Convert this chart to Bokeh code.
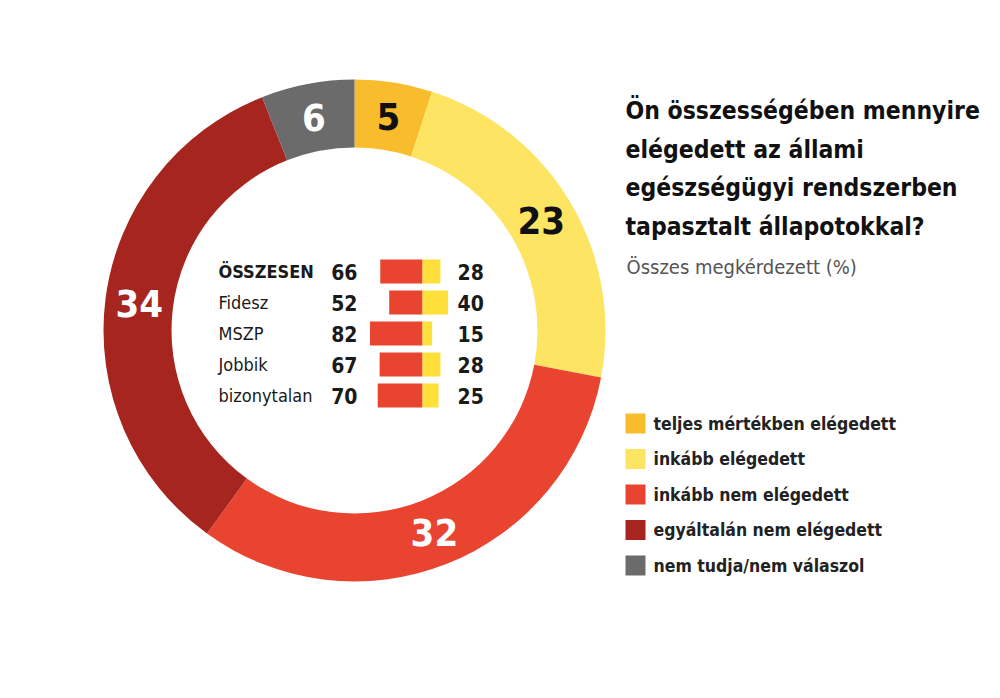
import numpy as np
from bokeh.plotting import figure
from bokeh.models import Range1d
from bokeh.core.properties import value
from bokeh.embed import file_html
from bokeh.resources import INLINE

# ---- data ----
categories = ["teljes mértékben elégedett", "inkább elégedett", "inkább nem elégedett",
              "egyáltalán nem elégedett", "nem tudja/nem válaszol"]
shares = [5, 23, 32, 34, 6]
slice_colors = ["#F9BC2C", "#FDE463", "#E8442F", "#A6251E", "#6B6B6B"]
label_colors = ["#111111", "#111111", "#FFFFFF", "#FFFFFF", "#FFFFFF"]

groups = ["ÖSSZESEN", "Fidesz", "MSZP", "Jobbik", "bizonytalan"]
not_satisfied = [66, 52, 82, 67, 70]
satisfied = [28, 40, 15, 28, 25]

title_lines = ["Ön összességében mennyire", "elégedett az állami",
               "egészségügyi rendszerben", "tapasztalt állapotokkal?"]
subtitle = "Összes megkérdezett (%)"

# ---- layout helpers (picture pixel coordinates) ----
W, H = 984, 682
PAGE_H = 698
def Y(py):
    return PAGE_H - np.asarray(py, dtype=float)

NARROW = value("DejaVu Sans Condensed, Liberation Sans Narrow, Liberation Sans, sans-serif")

p = figure(width=W, height=H, x_range=Range1d(0, W), y_range=Range1d(PAGE_H - H, PAGE_H),
           output_backend="svg", toolbar_location=None, min_border=0,
           x_axis_location=None, y_axis_location=None)
p.grid.visible = False
p.outline_line_color = None
p.background_fill_color = "white"
p.border_fill_color = "white"

# ---- donut ----
CX, CY = 354, 330
R_IN, R_OUT = 183, 251
vals = np.array(shares, dtype=float)
total = vals.sum()
cum = np.concatenate([[0], np.cumsum(vals)])
start = np.pi / 2 - 2 * np.pi * cum[:-1] / total
end = np.pi / 2 - 2 * np.pi * cum[1:] / total
p.annular_wedge(x=CX, y=float(Y(CY)), inner_radius=R_IN, outer_radius=R_OUT,
                start_angle=start, end_angle=end, direction="clock",
                fill_color=slice_colors, line_color=None)

mid = (cum[:-1] + cum[1:]) / 2
ang = np.pi / 2 - 2 * np.pi * mid / total
R_LAB = (R_IN + R_OUT) / 2
p.text(x=CX + R_LAB * np.cos(ang), y=float(Y(CY)) + R_LAB * np.sin(ang),
       text=[str(v) for v in shares], text_color=label_colors,
       text_font=NARROW, text_font_style="bold", text_font_size="38px",
       text_align="center", text_baseline="middle")

# ---- center table ----
row_y = Y(271 + 31 * np.arange(len(groups)))
MID_X, SCALE = 422, 0.64
ns = np.array(not_satisfied, dtype=float)
sa = np.array(satisfied, dtype=float)
p.hbar(y=row_y, left=MID_X - SCALE * ns, right=MID_X, height=24,
       fill_color="#E8442F", line_color=None)
p.hbar(y=row_y, left=MID_X, right=MID_X + SCALE * sa, height=24,
       fill_color="#FFDF3A", line_color=None)

styles = ["bold"] + ["normal"] * (len(groups) - 1)
p.text(x=218, y=row_y, text=groups, text_font=NARROW, text_font_size="18px",
       text_font_style=styles, text_color="#1a1a1a",
       text_align="left", text_baseline="middle")
p.text(x=357, y=row_y, text=[str(v) for v in not_satisfied], text_font=NARROW,
       text_font_size="21px", text_font_style="bold", text_color="#1a1a1a",
       text_align="right", text_baseline="middle")
p.text(x=457, y=row_y, text=[str(v) for v in satisfied], text_font=NARROW,
       text_font_size="21px", text_font_style="bold", text_color="#1a1a1a",
       text_align="left", text_baseline="middle")

# ---- title ----
p.text(x=625, y=Y(110 + 38.7 * np.arange(len(title_lines))), text=title_lines,
       text_font=NARROW, text_font_style="bold", text_font_size="24.5px",
       text_color="#111111", text_align="left", text_baseline="middle")
p.text(x=[626], y=[float(Y(266))], text=[subtitle], text_font=NARROW,
       text_font_size="20px", text_color="#555555",
       text_align="left", text_baseline="middle")

# ---- legend ----
leg_y = Y(423 + 35.5 * np.arange(len(categories)))
p.rect(x=635, y=leg_y, width=20, height=20, fill_color=slice_colors, line_color=None)
p.text(x=653, y=leg_y, text=categories, text_font=NARROW, text_font_style="bold",
       text_font_size="17.5px", text_color="#222222",
       text_align="left", text_baseline="middle")

open("out.html", "w").write(file_html(p, INLINE))
